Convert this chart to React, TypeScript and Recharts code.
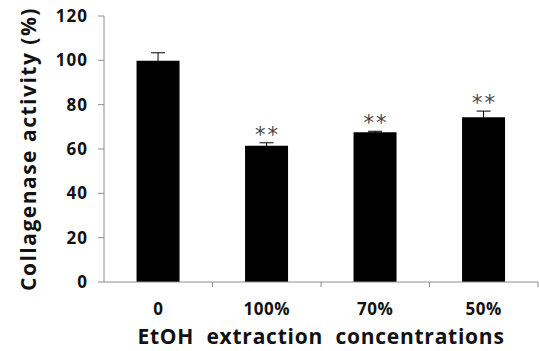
import { BarChart, Bar, XAxis, YAxis, ErrorBar, LabelList } from 'recharts'

const categories = ['0', '100%', '70%', '50%']
const activity = [99.8, 61.5, 67.6, 74.3]
const errors = [3.6, 1.3, 0.4, 2.8]
const marks = ['', '**', '**', '**']
const yTicks = [0, 20, 40, 60, 80, 100, 120]

const FONT = '"Open Sans", "Noto Sans", sans-serif'
const AXIS = '#8e8e8e'
const TICK_SIZE = 6
const TICK_MARGIN = 15
const Y_AXIS_WIDTH = 104

const data = categories.map((c, i) => ({ name: c, value: activity[i], err: errors[i], mark: marks[i] }))

function Stars(props: any) {
  const { x, y, width, height, index, value } = props
  if (!value) return null
  // px per unit from the bar itself, so the stars sit above the error cap
  const perUnit = height / activity[index]
  const top = y - errors[index] * perUnit
  return (
    <text x={x + width / 2 + 1} y={top - 1} textAnchor="middle" fill="#444" fontSize={21} fontFamily="DejaVu Sans, sans-serif" letterSpacing={2}>
      {value}
    </text>
  )
}

// category label plus the small tick mark on the right edge of its band
function CatTick(props: any) {
  const { x, y, payload, index } = props
  const axisY = y - TICK_SIZE - TICK_MARGIN
  // band centre sits at left + (i + 0.5) * band
  const half = (x - Y_AXIS_WIDTH) / (2 * index + 1)
  return (
    <g>
      <line x1={x + half} x2={x + half} y1={axisY} y2={axisY + 5} stroke={AXIS} />
      <text x={x} y={y} dy="0.71em" textAnchor="middle" fontSize={17} fontWeight={700} fill="#111" fontFamily={FONT} letterSpacing={0.5}>
        {payload.value}
      </text>
    </g>
  )
}

export default function App() {
  return (
    <div style={{ width: 539, height: 351, background: '#fff' }}>
      <style>{'body{margin:0}'}</style>
      <BarChart width={539} height={351} data={data} margin={{ top: 16, right: 1, bottom: 0, left: 0 }} barCategoryGap="30%">
        <XAxis
          dataKey="name"
          height={69}
          axisLine={{ stroke: AXIS }}
          tickLine={false}
          tickSize={TICK_SIZE}
          tickMargin={TICK_MARGIN}
          tick={CatTick}
          label={(p: any) => {
            const vb = p.viewBox
            return (
              <text x={vb.x + vb.width / 2} y={vb.y + 62} textAnchor="middle" fontSize={21} fontWeight={700} fill="#111" fontFamily={FONT} letterSpacing={0.75} style={{ whiteSpace: 'pre' }}>
                {'EtOH  extraction  concentrations'}
              </text>
            )
          }}
        />
        <YAxis
          width={Y_AXIS_WIDTH}
          domain={[0, 120]}
          ticks={yTicks}
          axisLine={{ stroke: AXIS }}
          tickLine={{ stroke: AXIS }}
          tickSize={6}
          tickMargin={10}
          tick={{ fontSize: 17, fontWeight: 700, fill: '#111', fontFamily: FONT, letterSpacing: 1 }}
          label={(p: any) => {
            const vb = p.viewBox
            const cy = vb.y + vb.height / 2
            return (
              <text x={36} y={cy} transform={`rotate(-90 36 ${cy})`} textAnchor="middle" fontSize={21} fontWeight={700} fill="#111" fontFamily={FONT} letterSpacing={1.5}>
                Collagenase activity (%)
              </text>
            )
          }}
        />
        <Bar dataKey="value" fill="#000" isAnimationActive={false}>
          <ErrorBar dataKey="err" width={7} stroke="#000" strokeWidth={1} direction="y" />
          <LabelList dataKey="mark" content={Stars} />
        </Bar>
      </BarChart>
    </div>
  )
}
